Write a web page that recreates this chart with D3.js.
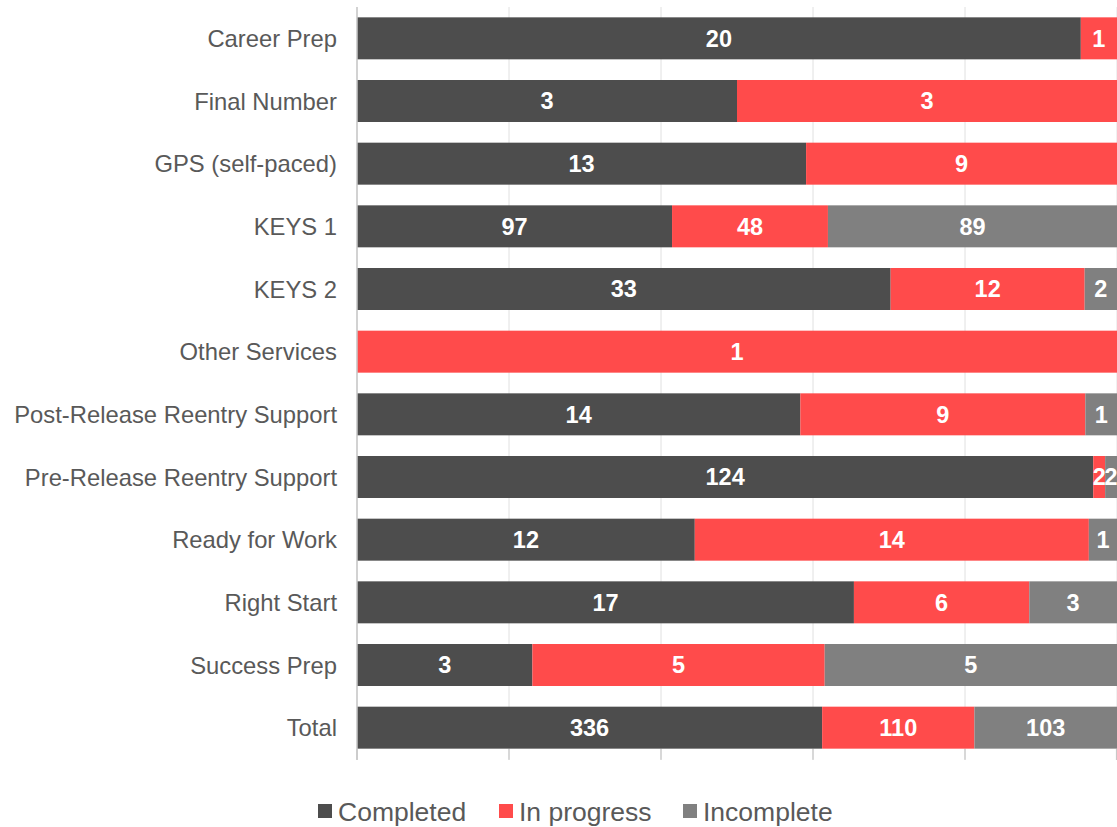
<!DOCTYPE html>
<html>
<head>
<meta charset="utf-8">
<script src="https://cdn.jsdelivr.net/npm/d3@7"></script>
<style>
  body { margin: 0; background: #fff; }
  text { font-family: "Liberation Sans", Arial, sans-serif; }
</style>
</head>
<body>
<div id="chart"></div>
<script>
var categories = [
  "Career Prep",
  "Final Number",
  "GPS (self-paced)",
  "KEYS 1",
  "KEYS 2",
  "Other Services",
  "Post-Release Reentry Support",
  "Pre-Release Reentry Support",
  "Ready for Work",
  "Right Start",
  "Success Prep",
  "Total"
];
var completed  = [20, 3, 13, 97, 33, 0, 14, 124, 12, 17, 3, 336];
var inProgress = [1, 3, 9, 48, 12, 1, 9, 2, 14, 6, 5, 110];
var incomplete = [0, 0, 0, 89, 2, 0, 1, 2, 1, 3, 5, 103];
var seriesNames = ["Completed", "In progress", "Incomplete"];
var colors = ["#4d4d4d", "#ff4b4b", "#808080"];
var xTicks = [0, 0.2, 0.4, 0.6, 0.8, 1];

var W = 1117, H = 827;
var margin = { top: 7, right: 0, bottom: 68, left: 357 };
var width = W - margin.left - margin.right,
  height = H - margin.top - margin.bottom;

var rows = categories.map(function (c, i) {
  return { cat: c, "Completed": completed[i], "In progress": inProgress[i], "Incomplete": incomplete[i] };
});

var stack = d3.stack().keys(seriesNames).offset(d3.stackOffsetExpand);
var layers = stack(rows);

var svg = d3.select("#chart").append("svg")
  .attr("width", W)
  .attr("height", H);

var g = svg.append("g")
  .attr("transform", "translate(" + margin.left + "," + margin.top + ")");

var x = d3.scaleLinear().domain([0, 1]).range([0, width]);
var y = d3.scaleBand().domain(categories).range([0, height]).paddingInner(0.33).paddingOuter(0.165);

// gridlines
g.append("g").selectAll("line")
  .data(xTicks)
  .enter().append("line")
  .attr("x1", function (d) { return x(d); })
  .attr("x2", function (d) { return x(d); })
  .attr("y1", 0)
  .attr("y2", height)
  .attr("stroke", "#e0e0e0")
  .attr("stroke-width", 1);

// bottom tick marks
g.append("g").selectAll("line")
  .data(xTicks)
  .enter().append("line")
  .attr("x1", function (d) { return Math.min(x(d), width - 0.5); })
  .attr("x2", function (d) { return Math.min(x(d), width - 0.5); })
  .attr("y1", height - 10)
  .attr("y2", height + 1)
  .attr("stroke", "#c8c8c8")
  .attr("stroke-width", 1.2);

var layer = g.selectAll(".layer")
  .data(layers)
  .enter().append("g")
  .attr("class", "layer")
  .attr("fill", function (d, i) { return colors[i]; });

layer.selectAll("rect")
  .data(function (d) { return d; })
  .enter().append("rect")
  .attr("x", function (d) { return x(d[0]); })
  .attr("y", function (d) { return y(d.data.cat); })
  .attr("width", function (d) { return x(d[1]) - x(d[0]); })
  .attr("height", y.bandwidth());

// value labels
layers.forEach(function (L) {
  g.append("g").selectAll("text")
    .data(L.filter(function (d) { return d.data[L.key] > 0; }))
    .enter().append("text")
    .attr("x", function (d) { return x((d[0] + d[1]) / 2); })
    .attr("y", function (d) { return y(d.data.cat) + y.bandwidth() / 2; })
    .attr("dy", "0.36em")
    .attr("text-anchor", "middle")
    .attr("fill", "#fff")
    .attr("font-weight", "bold")
    .attr("font-size", "23.5px")
    .text(function (d) { return d.data[L.key]; });
});

// left axis
var yAxis = g.append("g").call(d3.axisLeft(y).tickSize(0).tickPadding(20));
yAxis.select(".domain").attr("stroke", "#c8c8c8").attr("stroke-width", 1.5)
  .attr("d", "M0,0V" + (height + 1));
yAxis.selectAll("text")
  .attr("font-size", "23.8px")
  .attr("dy", "0.36em")
  .attr("fill", "#595959")
  .style("font-family", "'Liberation Sans', Arial, sans-serif");

// legend
var legendItems = [
  { name: "Completed", x: 318 },
  { name: "In progress", x: 499 },
  { name: "Incomplete", x: 683 }
];
var legend = svg.append("g").selectAll("g")
  .data(legendItems)
  .enter().append("g")
  .attr("transform", function (d) { return "translate(" + d.x + ",811)"; });
legend.append("rect")
  .attr("x", 0).attr("y", -7)
  .attr("width", 14).attr("height", 14)
  .attr("fill", function (d, i) { return colors[i]; });
legend.append("text")
  .attr("x", 20).attr("dy", "0.36em")
  .attr("font-size", "26.5px")
  .attr("fill", "#595959")
  .text(function (d) { return d.name; });
</script>
</body>
</html>
